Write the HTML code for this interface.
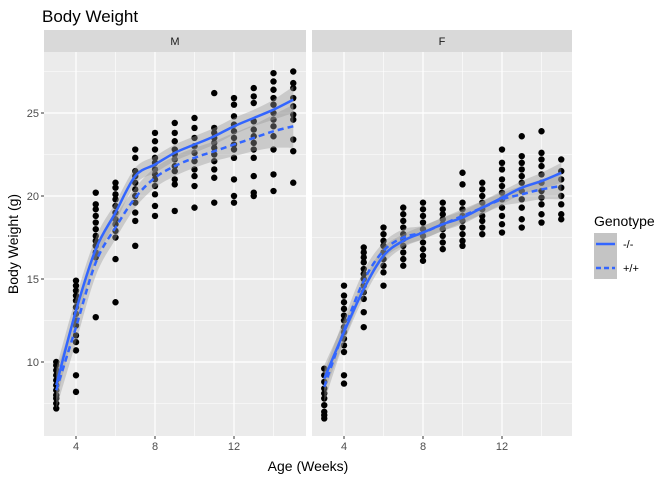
<!DOCTYPE html>
<html><head><meta charset="utf-8"><style>
body{margin:0;background:#fff;}
svg{font-family:"Liberation Sans",sans-serif;display:block;}
</style></head><body>
<svg id="chart" width="672" height="480">
<text x="42" y="22" font-size="17" fill="#000">Body Weight</text>
<g id="panels"></g>
<text x="308" y="471" font-size="14" text-anchor="middle">Age (Weeks)</text>
<text transform="translate(18,244) rotate(-90)" font-size="14" text-anchor="middle">Body Weight (g)</text>
<g>
<text x="594" y="226" font-size="14">Genotype</text>
<rect x="594" y="233" width="23" height="46" fill="#c4c4c4"/>
<line x1="596" x2="615" y1="244" y2="244" stroke="#3366ff" stroke-width="2.5"/>
<line x1="596" x2="615" y1="268" y2="268" stroke="#3366ff" stroke-width="2.5" stroke-dasharray="5,3"/>
<text x="623" y="248" font-size="11">-/-</text>
<text x="623" y="272" font-size="11">+/+</text>
</g>
</svg>
<script>
const weeks=[3,4,5,6,7,8,9,10,11,12,13,14,15];
const mPoints=[[7.2,7.5,7.8,8.0,8.3,8.6,8.9,9.2,9.5,9.8,10.0],[8.2,9.2,10.7,11.2,11.6,12.2,12.5,12.9,13.3,13.7,14.0,14.3,14.6,14.9],[12.7,16.3,16.6,17.0,17.3,17.6,18.0,18.4,18.8,19.2,19.5,20.2],[13.6,16.2,17.5,17.9,18.3,18.6,19.0,19.4,19.8,20.1,20.5,20.8],[17.0,18.5,19.0,19.6,20.0,20.4,20.8,21.2,21.5,22.3,22.8],[18.8,19.4,20.1,20.6,21.0,21.3,21.6,22.0,22.3,22.8,23.3,23.8],[19.1,20.7,21.0,21.5,21.8,22.2,22.5,22.8,23.3,23.8,24.4],[19.3,20.6,21.2,21.6,22.1,22.6,23.0,23.5,24.1,24.7],[19.6,21.1,21.6,22.1,22.5,22.9,23.2,23.5,23.8,24.1,26.2],[19.6,20.0,21.0,22.3,22.8,23.1,23.5,23.9,24.3,24.8,25.5,25.9],[20.0,20.2,21.2,22.3,22.8,23.2,23.6,24.0,24.5,25.6,26.0,26.5],[20.3,21.3,22.8,23.6,24.2,24.6,25.0,25.5,25.9,26.4,26.9,27.4],[20.8,22.7,23.4,24.6,24.9,25.4,25.9,26.5,26.8,27.5]];
const fPoints=[[6.6,6.8,7.0,7.4,7.8,8.1,8.4,8.8,9.2,9.6],[8.7,9.2,10.6,11.0,11.4,11.8,12.1,12.5,12.8,13.2,13.6,14.0,14.6],[12.1,13.0,13.8,14.2,14.6,15.0,15.3,15.6,16.0,16.3,16.6,16.9],[14.6,15.4,15.8,16.2,16.6,17.0,17.3,17.7,18.1],[15.8,16.2,16.6,17.0,17.4,17.7,18.1,18.5,18.9,19.3],[16.1,16.4,16.8,17.2,17.6,18.0,18.4,18.8,19.2,19.6],[16.8,17.2,17.6,18.0,18.3,18.6,18.9,19.2,19.6],[17.0,17.3,17.7,18.1,18.5,18.8,19.2,19.6,20.7,21.4],[17.7,18.1,18.5,18.8,19.2,19.6,20.0,20.4,20.8],[17.8,18.3,18.8,19.3,19.8,20.2,20.6,21.0,21.6,22.0,22.8],[18.1,18.6,19.3,19.8,20.3,20.8,21.2,21.6,22.0,22.4,23.6],[18.4,18.9,19.5,19.9,20.3,20.8,21.3,21.8,22.2,22.6,23.9],[18.6,18.9,19.5,20.0,20.5,21.0,21.5,22.2]];
const mKO=[8.6,13.1,16.8,19.0,21.2,21.9,22.6,23.1,23.6,24.2,24.7,25.2,25.8];
const mWT=[8.3,12.1,16.0,18.1,19.9,21.1,21.8,22.3,22.7,23.1,23.5,23.9,24.2];
const fKO=[9.0,11.8,14.4,16.4,17.3,17.8,18.3,18.7,19.3,19.9,20.5,20.9,21.4];
const fWT=[8.5,11.9,14.9,16.7,17.5,17.8,18.3,18.8,19.3,19.8,20.1,20.4,20.6];
const mKOse=[1.0,0.8,0.7,0.6,0.5,0.5,0.5,0.5,0.5,0.5,0.5,0.6,0.8];
const mWTse=[1.1,0.9,0.8,0.7,0.6,0.6,0.6,0.6,0.6,0.7,0.8,1.0,1.3];
const fKOse=[0.8,0.6,0.5,0.5,0.4,0.4,0.4,0.4,0.4,0.4,0.4,0.5,0.6];
const fWTse=[0.9,0.7,0.6,0.5,0.5,0.4,0.4,0.4,0.4,0.4,0.5,0.6,0.8];
const panelNames=["M","F"];
const yTicks=[10,15,20,25];
const xTicks=[4,8,12];

const NS="http://www.w3.org/2000/svg";
const g=document.getElementById('panels');
function mk(tag,attrs,parent){const e=document.createElementNS(NS,tag);for(const k in attrs)e.setAttribute(k,attrs[k]);(parent||g).appendChild(e);return e;}
const yScale=v=>113+(25-v)*16.6;
const pTop=52,pBot=436;
const panels=[{x0:44,x1:306,pts:mPoints,ko:mKO,wt:mWT,kose:mKOse,wtse:mWTse},{x0:312,x1:572,pts:fPoints,ko:fKO,wt:fWT,kose:fKOse,wtse:fWTse}];
function curve(xs,ys,start){
  let d=(start?'M':'L')+xs[0].toFixed(1)+','+ys[0].toFixed(1);
  for(let i=0;i<xs.length-1;i++){
    const x0=xs[Math.max(i-1,0)],y0=ys[Math.max(i-1,0)],x1=xs[i],y1=ys[i],x2=xs[i+1],y2=ys[i+1],x3=xs[Math.min(i+2,xs.length-1)],y3=ys[Math.min(i+2,xs.length-1)];
    const c1x=x1+(x2-x0)/6,c1y=y1+(y2-y0)/6,c2x=x2-(x3-x1)/6,c2y=y2-(y3-y1)/6;
    d+='C'+c1x.toFixed(1)+','+c1y.toFixed(1)+' '+c2x.toFixed(1)+','+c2y.toFixed(1)+' '+x2.toFixed(1)+','+y2.toFixed(1);
  }
  return d;
}
panels.forEach((p,pi)=>{
  const xScale=w=>p.x0+32+(w-4)*19.75;
  const bg=mk('rect',{x:p.x0,y:pTop,width:p.x1-p.x0,height:pBot-pTop,fill:'#ebebeb'});
  
  
  const strip=mk('rect',{x:p.x0,y:30,width:p.x1-p.x0,height:22,fill:'#d9d9d9'});
  
  
  const st=mk('text',{x:(p.x0+p.x1)/2,y:45,'font-size':11,'text-anchor':'middle',fill:'#1a1a1a'});
  st.textContent=panelNames[pi];
  
  
  for(let v=7.5;v<=27.5;v+=5){const l=mk('line',{x1:p.x0,x2:p.x1,y1:yScale(v),y2:yScale(v),stroke:'#fff','stroke-width':0.6});}
  for(let w=6;w<=14;w+=4){const l=mk('line',{x1:xScale(w),x2:xScale(w),y1:pTop,y2:pBot,stroke:'#fff','stroke-width':0.6});}
  yTicks.forEach(v=>{const l=mk('line',{x1:p.x0,x2:p.x1,y1:yScale(v),y2:yScale(v),stroke:'#fff','stroke-width':1.2});});
  xTicks.forEach(w=>{const l=mk('line',{x1:xScale(w),x2:xScale(w),y1:pTop,y2:pBot,stroke:'#fff','stroke-width':1.2});
    const t=mk('line',{x1:xScale(w),x2:xScale(w),y1:pBot,y2:pBot+3,stroke:'#333'});
    const tx=mk('text',{x:xScale(w),y:pBot+14,'font-size':11,'text-anchor':'middle',fill:'#4d4d4d'});tx.textContent=w;});
  if(pi===0){yTicks.forEach(v=>{const t=mk('line',{x1:p.x0-3,x2:p.x0,y1:yScale(v),y2:yScale(v),stroke:'#333'});
    const tx=mk('text',{x:p.x0-5,y:yScale(v)+4,'font-size':11,'text-anchor':'end',fill:'#4d4d4d'});tx.textContent=v;});}
  p.pts.forEach((arr,wi)=>arr.forEach(v=>{const c=mk('circle',{cx:xScale(weeks[wi]),cy:yScale(v),r:3.2,fill:'#000'});}));
  const xs=weeks.map(xScale);
  [[p.ko,p.kose,'ko'],[p.wt,p.wtse,'wt']].forEach(([vals,se,nm])=>{
    const up=vals.map((v,i)=>yScale(v+se[i])),lo=vals.map((v,i)=>yScale(v-se[i]));
    const d=curve(xs,up,true)+curve(xs.slice().reverse(),lo.slice().reverse(),false)+'Z';
    const b=mk('path',{d:d,fill:'#999','fill-opacity':0.4});
  });
  const l1=mk('path',{d:curve(xs,p.ko.map(yScale),true),fill:'none',stroke:'#3366ff','stroke-width':2.5,'stroke-linejoin':'round'});
  
  
  const l2=mk('path',{d:curve(xs,p.wt.map(yScale),true),fill:'none',stroke:'#3366ff','stroke-width':2.5,'stroke-dasharray':'6,4'});
  
  
});
</script>
</body></html>
